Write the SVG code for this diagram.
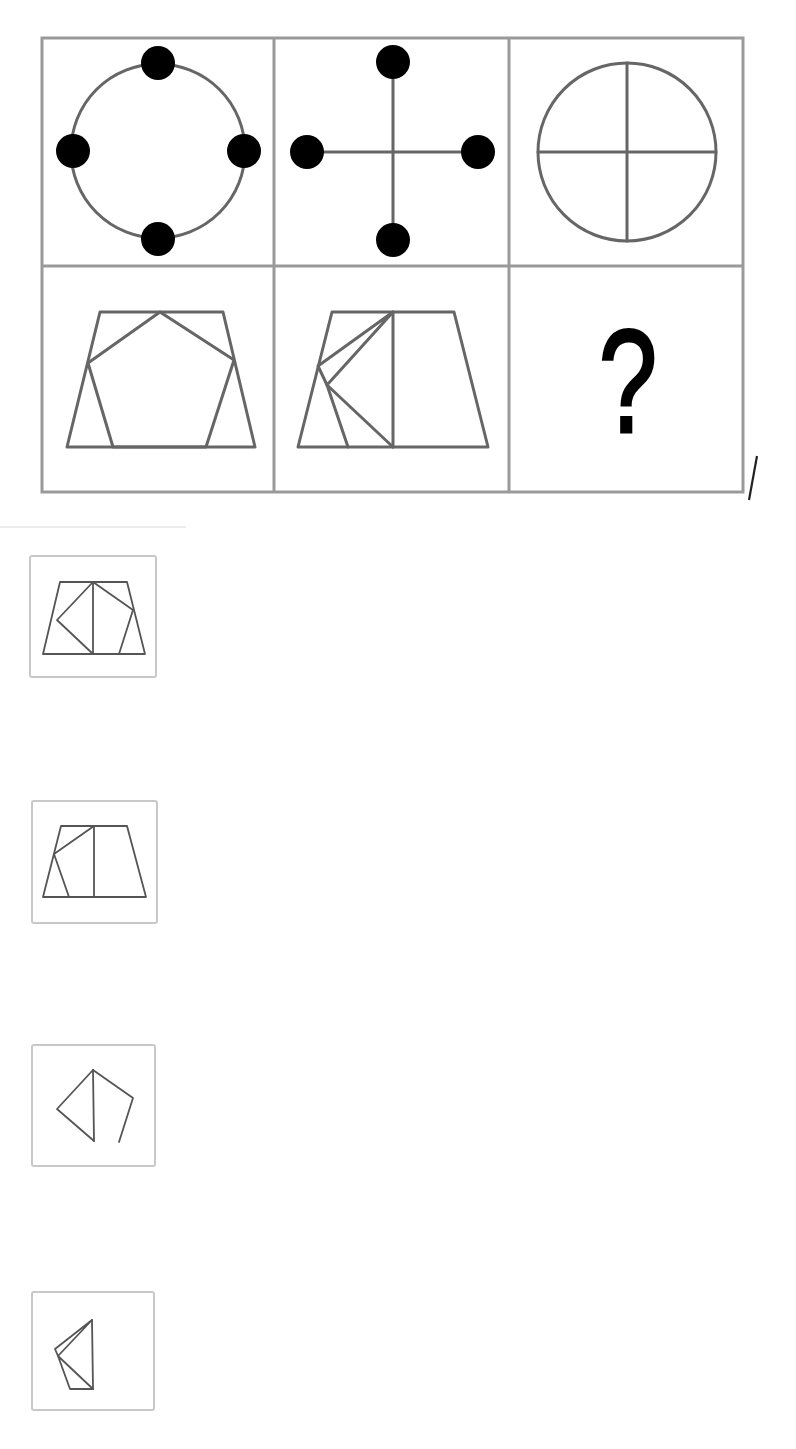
<svg xmlns="http://www.w3.org/2000/svg" width="796" height="1449" viewBox="0 0 796 1449">
<style>
.grid{fill:none;stroke:#9a9a9a;stroke-width:3}
.shape{fill:none;stroke:#666;stroke-width:3;stroke-linejoin:round;stroke-linecap:round}
.dot{fill:#000}
.box{fill:#fff;stroke:#c8c8c8;stroke-width:2}
.opt{fill:none;stroke:#555;stroke-width:1.8;stroke-linejoin:round;stroke-linecap:round}
.q{font-family:"Liberation Sans",Arial,sans-serif;fill:#000;stroke:#000;stroke-width:3}
</style>
<rect width="796" height="1449" fill="#fff"/>
<g id="grid">
<rect class="grid" x="42" y="38" width="701" height="454"/>
<line class="grid" x1="42" y1="266" x2="743" y2="266"/>
<line class="grid" x1="274" y1="38" x2="274" y2="492"/>
<line class="grid" x1="509" y1="38" x2="509" y2="492"/>
</g>
<g id="cell1">
<circle class="shape" cx="158" cy="151" r="87"/>
<circle class="dot" cx="158" cy="63" r="17"/>
<circle class="dot" cx="158" cy="239" r="17"/>
<circle class="dot" cx="73" cy="151" r="17"/>
<circle class="dot" cx="244" cy="151" r="17"/>
</g>
<g id="cell2">
<line class="shape" x1="393" y1="62" x2="393" y2="240" stroke-width="4.5"/>
<line class="shape" x1="307" y1="152" x2="478" y2="152" stroke-width="4.5"/>
<circle class="dot" cx="393" cy="62" r="17"/>
<circle class="dot" cx="393" cy="240" r="17"/>
<circle class="dot" cx="307" cy="152" r="17"/>
<circle class="dot" cx="478" cy="152" r="17"/>
</g>
<g id="cell3">
<circle class="shape" cx="627" cy="152" r="89"/>
<line class="shape" x1="627" y1="63" x2="627" y2="241" stroke="#4a4a4a"/>
<line class="shape" x1="538" y1="152" x2="716" y2="152" stroke="#4a4a4a"/>
</g>
<g id="cell4">
<polygon class="shape" points="100,312 223,312 255,447 67,447"/>
<polygon class="shape" points="160,312 234,360 206,447 113,447 88,363"/>
</g>
<g id="cell5">
<polygon class="shape" points="332,312 454,312 488,447 298,447"/>
<line class="shape" x1="393" y1="312" x2="393" y2="447"/>
<polyline class="shape" points="393,312 318,366 327,385 393,312"/>
<line class="shape" x1="327" y1="385" x2="348" y2="447"/>
<line class="shape" x1="327" y1="385" x2="393" y2="447"/>
</g>
<g id="cell6">
<text class="q" transform="translate(628,432) scale(0.72,1)" font-size="146" text-anchor="middle">?</text>
<line x1="757" y1="456" x2="749" y2="500" stroke="#222" stroke-width="2.2"/>
</g>
<line x1="0" y1="527" x2="186" y2="527" stroke="#e6e6e6" stroke-width="1.5"/>
<g id="optionA">
<rect class="box" x="30" y="556" width="126" height="121" rx="2"/>
<polygon class="opt" points="60,582 127,582 145,654 43,654"/>
<line class="opt" x1="93" y1="582" x2="93" y2="654"/>
<polyline class="opt" points="93,582 57,620 93,654"/>
<polyline class="opt" points="93,582 133,610 119,654"/>
</g>
<g id="optionB">
<rect class="box" x="32" y="801" width="125" height="122" rx="2"/>
<polygon class="opt" points="61,826 127,826 146,897 43,897"/>
<line class="opt" x1="94" y1="826" x2="94" y2="897"/>
<polyline class="opt" points="94,826 54,854 69,897"/>
</g>
<g id="optionC">
<rect class="box" x="32" y="1045" width="123" height="121" rx="2"/>
<line class="opt" x1="93" y1="1070" x2="94" y2="1141"/>
<polyline class="opt" points="93,1070 57,1109 94,1141"/>
<polyline class="opt" points="93,1070 133,1098 119,1142"/>
</g>
<g id="optionD">
<rect class="box" x="32" y="1292" width="122" height="118" rx="2"/>
<line class="opt" x1="92" y1="1320" x2="93" y2="1389"/>
<polyline class="opt" points="92,1320 55,1349 58,1356 92,1320"/>
<polyline class="opt" points="58,1356 70,1389 93,1389 58,1356"/>
</g>
</svg>
